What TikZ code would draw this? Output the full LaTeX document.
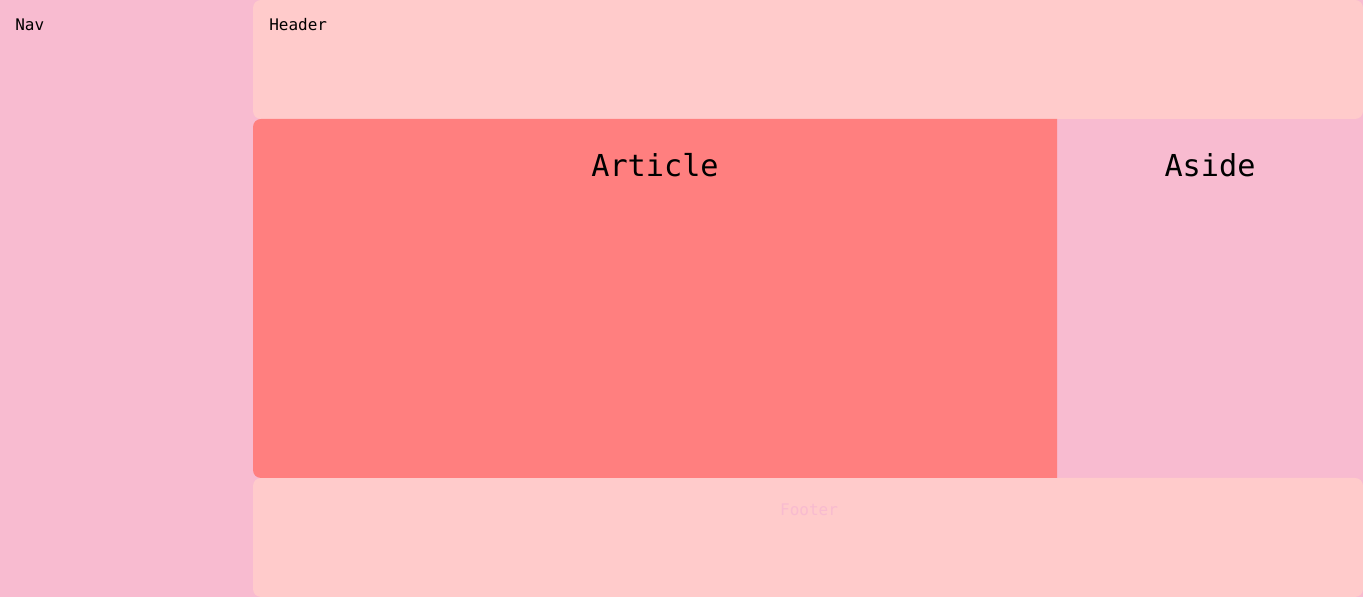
\documentclass[tikz,border=0pt]{standalone}
\usepackage{fontspec}
\setmonofont{DejaVu Sans Mono}
\usetikzlibrary{positioning}
\definecolor{navpink}{HTML}{F8BBD0}
\definecolor{boxrose}{HTML}{FFCBCB}
\definecolor{artred}{HTML}{FF7F7F}
\tikzset{
  area/.style    = {rounded corners=0.16cm},
  smalllbl/.style = {anchor=base west, inner sep=0pt, font=\ttfamily\fontsize{9.1}{11}\selectfont},
  biglbl/.style   = {anchor=base, inner sep=0pt, font=\ttfamily\fontsize{17.2}{20}\selectfont},
}

\begin{document}
\begin{tikzpicture}[x=0.02cm,y=-0.02cm]
  \useasboundingbox (0,0) rectangle (1363,597);
  % pink ground: nav, aside and the gaps at the corners
  \fill[navpink] (0,0) rectangle (1363,597);
  % header and footer
  \fill[boxrose,area] (253,0) rectangle (1363,119);
  \fill[boxrose,area] (253,478) rectangle (1363,597);
  % article, rounded on the left only
  \fill[artred,area] (655,119) -- (253,119) -- (253,478) -- (655,478)
    [sharp corners] -- (1057,478) -- (1057,119) -- cycle;
  % labels
  \node[smalllbl] (nav) at (15,31) {Nav};
  \node[smalllbl] (header) at (269,31) {Header};
  \node[biglbl] (article) at (655,177) {Article};
  \node[biglbl] (aside) at (1210,177) {Aside};
  \node[smalllbl, anchor=base, text=navpink] (footer) at (809,516) {Footer};
\end{tikzpicture}
\end{document}
